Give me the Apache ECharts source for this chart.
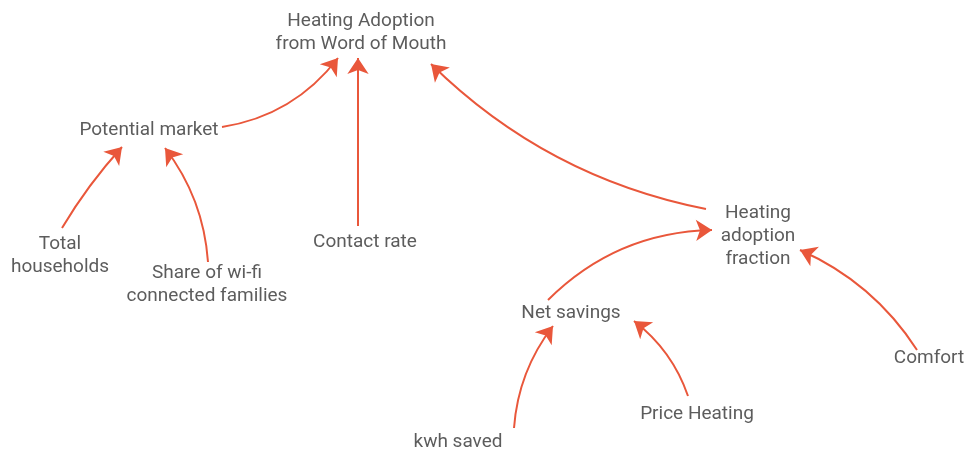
<!DOCTYPE html>
<html>
<head>
<meta charset="utf-8">
<script src="https://cdn.jsdelivr.net/npm/echarts@6/dist/echarts.min.js"></script>
<style>
  html, body { margin: 0; padding: 0; background: #fff; }
  #diagram { width: 967px; height: 453px; }
</style>
</head>
<body>
<div id="diagram"></div>
<script>
// variable names and where their text sits (picture pixels)
var names = ['Heating Adoption\nfrom Word of Mouth', 'Potential market', 'Total\nhouseholds',
  'Share of wi-fi\nconnected families', 'Contact rate', 'Heating\nadoption\nfraction',
  'Net savings', 'Price Heating', 'kwh saved', 'Comfort'];
var nameX = [361, 149, 60, 207, 365, 758, 571, 697, 458, 929];
var nameY = [33, 130, 256, 285, 242, 236, 313, 414, 442, 358];

// causal links: tail point, head point, bend
var linkFrom = [[222, 127], [358, 226], [706, 209], [62, 228], [208, 262], [548, 300], [514, 428], [688, 396], [917, 350]];
var linkTo = [[338, 58], [358, 58], [431, 64], [122, 147], [165, 148], [712, 230], [553, 326], [634, 321], [800, 250]];
var linkBend = [-0.2, 0, 0.15, 0.05, -0.15, 0.2, 0.15, -0.15, -0.15];

var chart = echarts.init(document.getElementById('diagram'));

var nodes = [];
for (var i = 0; i < names.length; i++) {
  nodes.push({ name: names[i], value: [nameX[i], nameY[i]] });
}

var links = [];
for (var j = 0; j < linkFrom.length; j++) {
  links.push({ coords: [linkFrom[j], linkTo[j]], lineStyle: { curveness: linkBend[j] } });
}

chart.setOption({
  animation: false,
  grid: { left: 0, right: 0, top: 0, bottom: 0 },
  xAxis: { type: 'value', min: 0, max: 967, show: false },
  yAxis: { type: 'value', min: 0, max: 453, inverse: true, show: false },
  series: [
    {
      type: 'lines',
      coordinateSystem: 'cartesian2d',
      symbol: ['none', 'arrow'],
      symbolSize: 16,
      lineStyle: { color: '#e9573b', width: 2, opacity: 1 },
      data: links
    },
    {
      type: 'scatter',
      symbolSize: 1,
      itemStyle: { color: 'rgba(0,0,0,0)' },
      label: {
        show: true,
        position: 'inside',
        formatter: '{b}',
        fontFamily: 'Roboto',
        fontSize: 19,
        lineHeight: 23,
        color: '#333'
      },
      data: nodes
    }
  ]
});
</script>
</body>
</html>
